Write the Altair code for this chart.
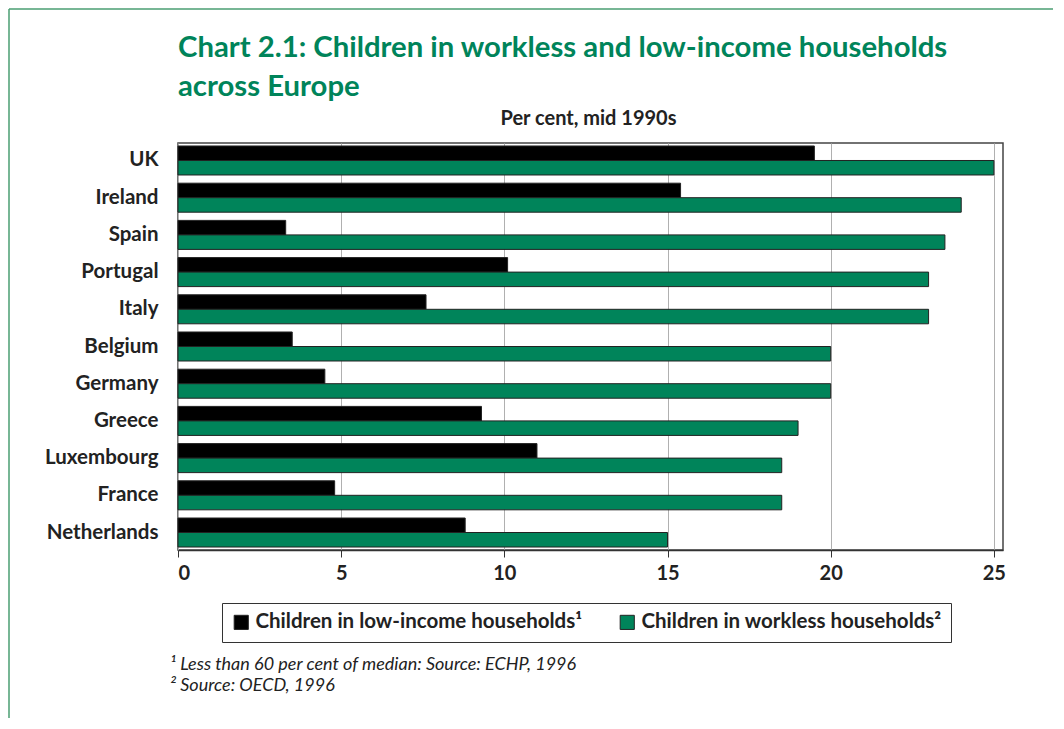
import altair as alt
import pandas as pd

countries = ["UK", "Ireland", "Spain", "Portugal", "Italy", "Belgium", "Germany",
             "Greece", "Luxembourg", "France", "Netherlands"]
low_income = [19.5, 15.4, 3.3, 10.1, 7.6, 3.5, 4.5, 9.3, 11.0, 4.8, 8.8]
workless = [25.0, 24.0, 23.5, 23.0, 23.0, 20.0, 20.0, 19.0, 18.5, 18.5, 15.0]
series = ["Children in low-income households", "Children in workless households"]
series_labels = ["Children in low-income households\u00b9", "Children in workless households\u00b2"]
colors = ["#000000", "#00845A"]
ticks = [0, 5, 10, 15, 20, 25]
title_lines = ["Chart 2.1: Children in workless and low-income households", "across Europe"]
subtitle_text = "Per cent, mid 1990s"
footnotes = ["\u00b9 Less than 60 per cent of median: Source: ECHP, 1996",
             "\u00b2 Source: OECD, 1996"]

rows = []
for c, a, b in zip(countries, low_income, workless):
    rows.append({"country": c, "series": series[0], "value": a})
    rows.append({"country": c, "series": series[1], "value": b})
df = pd.DataFrame(rows)

FONT = "Lato"
GREEN = "#00845A"
W, H = 825, 407

label_expr = "datum.label == '{0}' ? '{1}' : '{2}'".format(series[0], series_labels[0], series_labels[1])

bars = alt.Chart(df).mark_bar(stroke="#222222", strokeWidth=1).encode(
    y=alt.Y("country:N", sort=countries, title=None,
            scale=alt.Scale(paddingInner=0.22, paddingOuter=0.08),
            axis=alt.Axis(labelFontSize=20.5, labelFontWeight="bold", labelColor="#222222",
                          labelFont=FONT, ticks=False, domain=False, labelPadding=20)),
    yOffset=alt.YOffset("series:N", sort=series),
    x=alt.X("value:Q", title=None,
            scale=alt.Scale(domain=[0, 25.28], nice=False, zero=True),
            axis=alt.Axis(values=ticks, labelFontSize=20, labelFontWeight="bold",
                          labelColor="#222222", labelFont=FONT, grid=True, gridColor="#b0b0b0",
                          gridWidth=1, tickColor="#333333", tickSize=7, domainColor="#333333",
                          domainWidth=1.5, labelPadding=6, format="d")),
    color=alt.Color("series:N", sort=series,
                    scale=alt.Scale(domain=series, range=colors),
                    legend=alt.Legend(title=None, orient="none", legendX=44, legendY=460,
                                      direction="horizontal", columns=2,
                                      labelExpr=label_expr, labelFont=FONT, labelFontSize=20.5,
                                      labelFontWeight="bold", labelColor="#222222",
                                      labelLimit=500, symbolType="square", symbolSize=200,
                                      symbolStrokeColor="#222222", symbolStrokeWidth=1,
                                      columnPadding=34, strokeColor="#333333", padding=9,
                                      labelOffset=4)),
)

one = pd.DataFrame({"a": [0]})


def text_layer(txt, x, y, size, color="#222222", weight="normal", style="normal", align="left"):
    return alt.Chart(one).mark_text(font=FONT, fontSize=size, fontWeight=weight, fontStyle=style,
                                    color=color, align=align, baseline="alphabetic").encode(
        x=alt.value(x), y=alt.value(y), text=alt.value(txt))


title1 = text_layer(title_lines[0], 0, -86, 29.3, color=GREEN, weight="bold")
title2 = text_layer(title_lines[1], 0, -47, 29.3, color=GREEN, weight="bold")
subtitle = text_layer(subtitle_text, W / 2 - 2, -18, 20, weight="bold", align="center")
foot1 = text_layer(footnotes[0], -8, 527, 18, style="italic")
foot2 = text_layer(footnotes[1], -8, 548, 18, style="italic")

frame_left = alt.Chart(one).mark_rule(color="#4a9e72", strokeWidth=1.5).encode(
    x=alt.value(-169), y=alt.value(-134), y2=alt.value(620))
frame_top = alt.Chart(one).mark_rule(color="#4a9e72", strokeWidth=1.5).encode(
    x=alt.value(-169), x2=alt.value(960), y=alt.value(-134))

chart = alt.layer(frame_left, frame_top, bars, title1, title2, subtitle, foot1, foot2).properties(
    width=W, height=H,
    autosize=alt.AutoSizeParams(type="none"),
    padding={"left": 170, "top": 135, "right": 50, "bottom": 168},
).configure_view(stroke="#444444", strokeWidth=1.5)

chart.save("out.html", embed_options={"renderer": "svg", "actions": False})
